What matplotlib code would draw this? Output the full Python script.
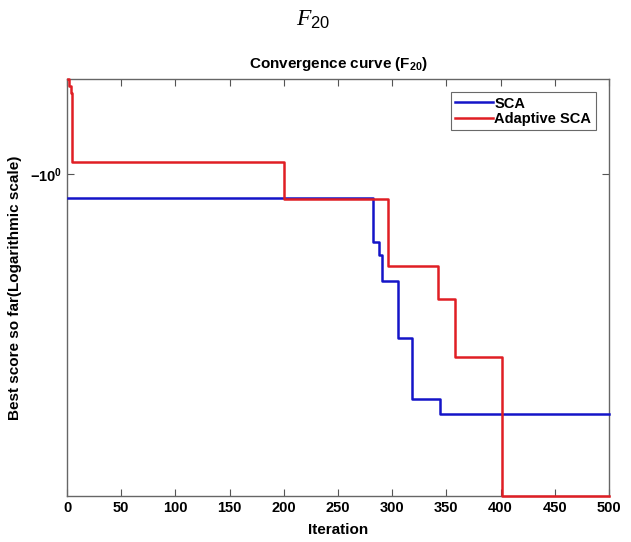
"""
Convergence curve for F20, SCA vs Adaptive SCA (log scale of negative scores).
"""
import matplotlib
matplotlib.use("Agg")
import matplotlib.pyplot as plt
from matplotlib.ticker import FixedLocator, NullLocator

plt.rcParams['font.family'] = ['Liberation Sans', 'DejaVu Sans']
plt.rcParams['mathtext.fontset'] = 'custom'
plt.rcParams['mathtext.rm'] = 'Liberation Sans'
plt.rcParams['mathtext.bf'] = 'Liberation Sans:bold'
plt.rcParams['mathtext.it'] = 'Liberation Serif:italic'

# best score so far, values hold from the given iteration onwards
sca_iters = [1, 282, 288, 291, 305, 318, 344, 500]
sca_scores = [-1.095, -1.289, -1.353, -1.490, -1.843, -2.314, -2.447, -2.447]

asca_iters = [1, 2, 4, 5, 200, 296, 342, 358, 401, 500]
asca_scores = [-0.702, -0.72, -0.74, -0.956, -1.098, -1.409, -1.594, -1.979, -3.322, -3.322]

x_ticks = list(range(0, 501, 50))
y_tick = 1.0
y_tick_label = r'$\mathbf{-10^{0}}$'

fig = plt.figure(figsize=(6.31, 5.42), dpi=100)
ax = fig.add_axes([67 / 631, 46 / 542, 542 / 631, 417 / 542])

# plot magnitudes on a log axis, flipped so more negative is lower
ax.step(sca_iters, [-v for v in sca_scores], where='post',
        color='#1414C8', lw=1.8, label='SCA', clip_on=False, zorder=3)
ax.step(asca_iters, [-v for v in asca_scores], where='post',
        color='#E01E24', lw=1.8, label='Adaptive SCA', clip_on=False, zorder=3)

ax.set_yscale('log')
ax.set_xlim(0, 500)
ax.set_ylim(max(-v for v in asca_scores), min(-v for v in asca_scores))

ax.set_xticks(x_ticks)
ax.set_xticklabels([str(t) for t in x_ticks], fontweight='bold', fontsize=10.5)
ax.yaxis.set_major_locator(FixedLocator([y_tick]))
ax.yaxis.set_minor_locator(NullLocator())
ax.set_yticklabels([y_tick_label], fontsize=10.5)

ax.tick_params(direction='in', top=True, right=True, length=5,
               color='#555555', width=0.8)
ax.tick_params(axis='both', which='minor', length=0)
for s in ax.spines.values():
    s.set_color('#666666')
    s.set_linewidth(1.0)

ax.set_xlabel('Iteration', fontweight='bold', fontsize=11, labelpad=6)
ax.set_ylabel('Best score so far(Logarithmic scale)', fontweight='bold',
              fontsize=11, labelpad=6)
ax.set_title(r'Convergence curve (F$_{\mathbf{20}}$)', fontweight='bold',
             fontsize=11, pad=8)

leg = ax.legend(loc='upper right', frameon=True, fancybox=False,
                borderpad=0.3, handlelength=2.6, handletextpad=0.1,
                labelspacing=0.1, borderaxespad=0.9,
                prop={'weight': 'bold', 'size': 10.5})
leg.get_frame().set_edgecolor('#444444')
leg.get_frame().set_linewidth(0.8)

fig.text(0.496, 1 - 20 / 542, r'$\mathit{F}_{\mathit{20}}$', ha='center',
         va='center', fontsize=17)

fig.savefig('out.png', dpi=100)
